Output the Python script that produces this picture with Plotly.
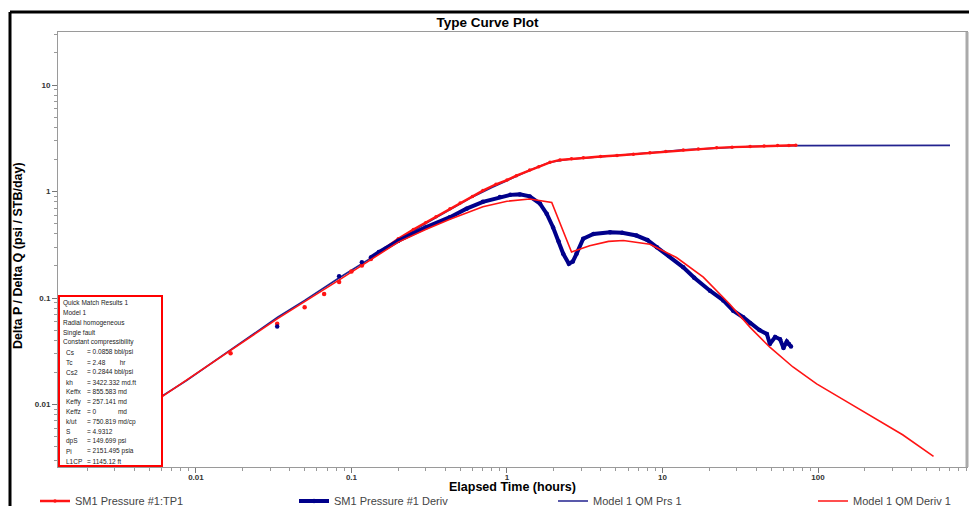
import plotly.graph_objects as go

# ---------------- data ----------------
# SM1 Pressure #1:TP1 (measured delta P / delta Q)
pres_t = [0.0167, 0.0333, 0.05, 0.0667, 0.0833, 0.1, 0.1167, 0.1333,
          0.15, 0.1667, 0.2, 0.25, 0.3, 0.35, 0.43, 0.5, 0.6, 0.7, 0.85, 1.0,
          1.15, 1.4, 1.6, 1.89, 2.19, 2.6, 3.1, 4.0, 5.1, 6.5, 8.3, 10.5, 13.6,
          17.0, 22.3, 28.0, 36.6, 45.0, 55.0, 65.0, 72.0]
pres_y = [0.0303, 0.0573, 0.082, 0.109, 0.141, 0.177, 0.202, 0.233,
          0.267, 0.297, 0.36, 0.44, 0.51, 0.58, 0.69, 0.78, 0.90, 1.02, 1.17, 1.28,
          1.41, 1.59, 1.71, 1.88, 1.98, 2.03, 2.07, 2.13, 2.18, 2.24, 2.31, 2.38, 2.46,
          2.51, 2.57, 2.61, 2.65, 2.68, 2.70, 2.71, 2.72]

# SM1 Pressure #1 Deriv (measured derivative)
deriv_t = [0.0333, 0.0833, 0.1167, 0.1333, 0.15, 0.2, 0.3, 0.43, 0.55, 0.7,
           0.9, 1.05, 1.21, 1.4, 1.63, 1.8, 1.98, 2.15, 2.3, 2.5, 2.65, 2.8, 3.09,
           3.6, 4.6, 5.5, 6.8, 8.0, 9.2, 11.0, 13.6, 16.0, 20.2, 24.6, 28.5, 33.0,
           36.6, 42.0, 46.9, 49.0, 53.0, 57.0, 60.0, 63.0, 65.0, 67.0]
deriv_y = [0.054, 0.160, 0.217, 0.24, 0.27, 0.345, 0.46, 0.574, 0.69, 0.80,
           0.89, 0.93, 0.94, 0.90, 0.77, 0.62, 0.46, 0.34, 0.26, 0.21, 0.22, 0.26, 0.36,
           0.40, 0.415, 0.41, 0.386, 0.35, 0.30, 0.25, 0.194, 0.155, 0.117, 0.095, 0.076, 0.066,
           0.058, 0.05, 0.046, 0.037, 0.043, 0.041, 0.034, 0.039, 0.037, 0.035]

# Model 1 QM Prs 1
mprs_t = [0.0015, 0.003, 0.006, 0.0087, 0.015, 0.0335, 0.05, 0.0835, 0.13, 0.205,
          0.3, 0.43, 0.6, 0.8, 1.0, 1.4, 1.89, 2.5, 3.5, 5.0, 8.3, 13.6, 22.3, 36.6,
          73.0, 150.0, 300.0, 706.0]
mprs_y = [0.003, 0.006, 0.0119, 0.0168, 0.029, 0.066, 0.095, 0.155, 0.232, 0.36,
          0.50, 0.68, 0.89, 1.09, 1.27, 1.58, 1.88, 2.01, 2.09, 2.17, 2.31, 2.46, 2.57, 2.65,
          2.70, 2.71, 2.71, 2.71]

# Model 1 QM Deriv 1
mder_t = [0.0015, 0.006, 0.0335, 0.0835, 0.2, 0.3, 0.43, 0.7, 1.0, 1.4, 1.94,
          2.6, 3.4, 4.5, 5.6, 8.3, 12.3, 18.3, 27.0, 36.6, 49.0, 69.0, 98.0, 150.0,
          207.0, 350.0, 553.0]
mder_y = [0.003, 0.0118, 0.064, 0.148, 0.335, 0.44, 0.55, 0.72, 0.81, 0.85, 0.79,
          0.27, 0.31, 0.34, 0.347, 0.32, 0.24, 0.157, 0.088, 0.053, 0.0345, 0.0225, 0.0156, 0.0108,
          0.0082, 0.0052, 0.00325]

x_tickvals = [0.01, 0.1, 1, 10, 100]
x_ticktext = ["0.01", "0.1", "1", "10", "100"]
y_tickvals = [0.01, 0.1, 1, 10]
y_ticktext = ["0.01", "0.1", "1", "10"]

info_header = ["Quick Match Results 1", "Model 1", "Radial homogeneous",
               "Single fault", "Constant compressibility"]
info_names = ["Cs", "Tc", "Cs2", "kh", "Keffx", "Keffy", "Keffz", "k/ut",
              "S", "dpS", "Pi", "L1CP"]
info_values = ["= 0.0858 bbl/psi", "= 2.48\u00a0\u00a0\u00a0\u00a0\u00a0\u00a0\u00a0\u00a0hr",
               "= 0.2844 bbl/psi", "= 3422.332 md.ft", "= 855.583 md", "= 257.141 md",
               "= 0\u00a0\u00a0\u00a0\u00a0\u00a0\u00a0\u00a0\u00a0\u00a0\u00a0\u00a0\u00a0md",
               "= 750.819 md/cp", "= 4.9312", "= 149.699 psi", "= 2151.495 psia",
               "= 1145.12 ft"]

# ---------------- layout constants ----------------
W, H = 969, 506
L, R, T, B = 58, 967, 32, 467
PW, PH = R - L, B - T
RED = "#ff1414"
NAVY = "#00008b"
MBLUE = "#22228f"
FONT = "Liberation Sans"


def px_x(x):
    return (x - L) / PW


def px_y(y):
    return (B - y) / PH


n_p_sparse = 8
n_d_sparse = 3

fig = go.Figure()

# model pressure (under the data)
fig.add_trace(go.Scatter(x=mprs_t, y=mprs_y, mode="lines", name="Model 1 QM Prs 1",
                         legend="legend3",
                         line=dict(color=MBLUE, width=1.6)))
# measured pressure
fig.add_trace(go.Scatter(x=pres_t[:n_p_sparse], y=pres_y[:n_p_sparse], mode="markers",
                         name="SM1 Pressure #1:TP1", legendgroup="p", showlegend=False,
                         marker=dict(color=RED, size=4.5)))
fig.add_trace(go.Scatter(x=pres_t[n_p_sparse:], y=pres_y[n_p_sparse:], mode="lines+markers",
                         name="SM1 Pressure #1:TP1", legendgroup="p", legend="legend",
                         line=dict(color=RED, width=2.4), marker=dict(color=RED, size=3.5)))
# measured derivative
fig.add_trace(go.Scatter(x=deriv_t[:n_d_sparse], y=deriv_y[:n_d_sparse], mode="markers",
                         name="SM1 Pressure #1 Deriv", legendgroup="d", showlegend=False,
                         marker=dict(color=NAVY, size=4.5)))
fig.add_trace(go.Scatter(x=deriv_t[n_d_sparse:], y=deriv_y[n_d_sparse:], mode="lines+markers",
                         name="SM1 Pressure #1 Deriv", legendgroup="d", legend="legend2",
                         line=dict(color=NAVY, width=4), marker=dict(color=NAVY, size=4.5)))
# model derivative (on top)
fig.add_trace(go.Scatter(x=mder_t, y=mder_y, mode="lines", name="Model 1 QM Deriv 1",
                         legend="legend4",
                         line=dict(color=RED, width=1.6)))

axis_common = dict(type="log", showgrid=False, zeroline=False, showline=True,
                   linecolor="#9a9a9a", linewidth=1, mirror=True,
                   ticks="outside", ticklen=5, tickcolor="#777", tickwidth=1,
                   tickfont=dict(family=FONT, size=8, color="#333", weight="bold"),
                   minor=dict(ticks="outside", ticklen=3, tickcolor="#999", dtick="D1",
                              showgrid=False))

fig.update_xaxes(range=[-2.887, 2.958], tickvals=x_tickvals, ticktext=x_ticktext,
                 ticklabelstandoff=-3, **axis_common)
fig.update_yaxes(range=[-2.587, 1.498], tickvals=y_tickvals, ticktext=y_ticktext,
                 **axis_common)

shapes = [
    # outer black frame (left and top)
    dict(type="line", xref="paper", yref="paper", x0=px_x(10), x1=px_x(10),
         y0=px_y(12), y1=px_y(510), line=dict(color="black", width=3)),
    dict(type="line", xref="paper", yref="paper", x0=px_x(10), x1=px_x(972),
         y0=px_y(12), y1=px_y(12), line=dict(color="black", width=3)),
    # thick right plot border
    dict(type="line", xref="paper", yref="paper", x0=1, x1=1, y0=0, y1=1,
         line=dict(color="#aaaaaa", width=3)),
    # info box
    dict(type="rect", xref="paper", yref="paper", x0=px_x(59), x1=px_x(162),
         y0=px_y(466), y1=px_y(296), fillcolor="white", layer="above",
         line=dict(color="#ff0000", width=2)),
]

annotations = [
    dict(text="<b>Elapsed Time (hours)</b>", xref="paper", yref="paper",
         x=0.5, y=px_y(487), xanchor="center", yanchor="middle", showarrow=False,
         font=dict(family=FONT, size=12.5, color="black")),
    dict(text="<b>Delta P / Delta Q (psi / STB/day)</b>", xref="paper", yref="paper",
         x=px_x(18), y=px_y(256), xanchor="center", yanchor="middle", showarrow=False,
         textangle=-90, font=dict(family=FONT, size=12.5, color="black")),
]

row_y0, row_dy = 302.8, 9.9
for i, line in enumerate(info_header):
    annotations.append(dict(text=line, xref="paper", yref="paper", x=px_x(62),
                            y=px_y(row_y0 + i * row_dy), xanchor="left", yanchor="middle",
                            showarrow=False, borderpad=0,
                            font=dict(family=FONT, size=6.5, color="#222")))
for j, (nm, val) in enumerate(zip(info_names, info_values)):
    yy = px_y(row_y0 + (len(info_header) + j) * row_dy)
    annotations.append(dict(text=nm, xref="paper", yref="paper", x=px_x(65), y=yy,
                            xanchor="left", yanchor="middle", showarrow=False, borderpad=0,
                            font=dict(family=FONT, size=6.5, color="#222")))
    annotations.append(dict(text=val, xref="paper", yref="paper", x=px_x(86), y=yy,
                            xanchor="left", yanchor="middle", showarrow=False, borderpad=0,
                            font=dict(family=FONT, size=6.5, color="#222")))

legend_style = dict(orientation="h", xanchor="left", yref="paper", y=px_y(501),
                    yanchor="middle", font=dict(family=FONT, size=11, color="#444"),
                    bgcolor="rgba(0,0,0,0)")
legend_text_x = [75, 334, 593, 853]

fig.update_layout(
    width=W, height=H,
    margin=dict(l=L, r=W - R, t=T, b=H - B, autoexpand=False),
    paper_bgcolor="white", plot_bgcolor="white",
    font=dict(family=FONT, color="#333"),
    title=dict(text="<b>Type Curve Plot</b>", xref="paper", x=px_x(487.5), xanchor="center",
               yref="container", y=1 - 22 / H, yanchor="middle",
               font=dict(family=FONT, size=13.5, color="black")),
    showlegend=True,
    legend=dict(x=px_x(legend_text_x[0] - 40), **legend_style),
    legend2=dict(x=px_x(legend_text_x[1] - 40), **legend_style),
    legend3=dict(x=px_x(legend_text_x[2] - 40), **legend_style),
    legend4=dict(x=px_x(legend_text_x[3] - 40), **legend_style),
    shapes=shapes, annotations=annotations,
)

fig.write_html("out.html")
